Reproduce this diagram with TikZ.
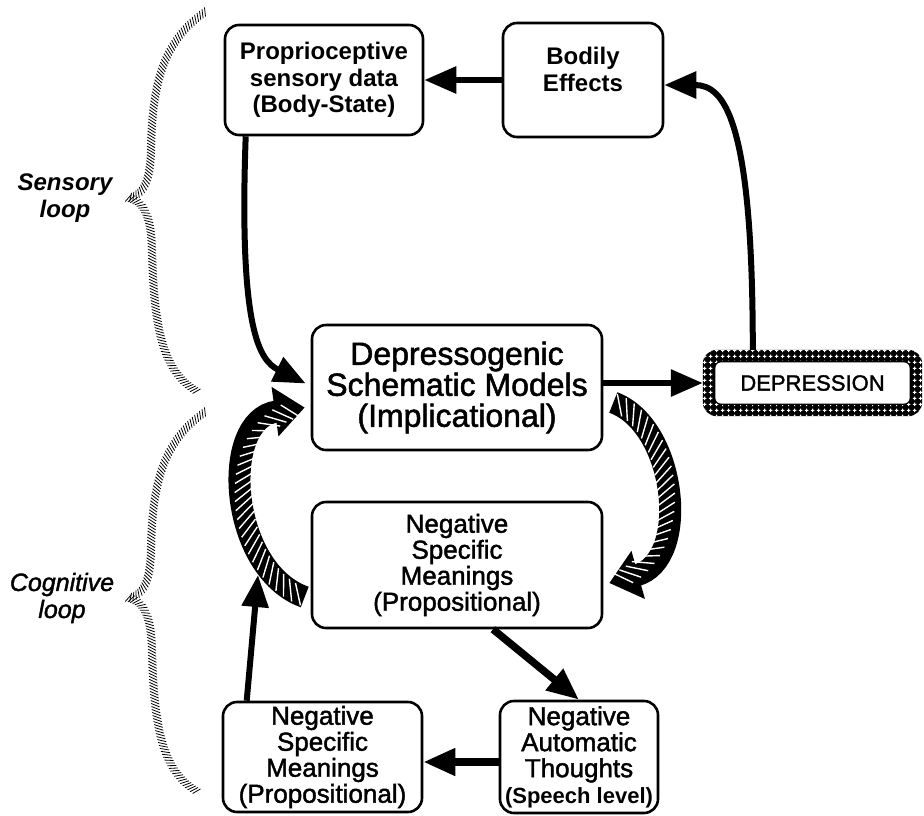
\documentclass[tikz,border=0pt]{standalone}
\usepackage{fontspec}
\setmainfont{Liberation Sans}
\newfontfamily\heavyfont[FakeBold=1.6]{Liberation Sans}
\usetikzlibrary{arrows.meta,calc,decorations.markings,patterns.meta}

% white crosses on black for the DEPRESSION frame
\tikzdeclarepattern{
  name=speckle, type=uncolored,
  bounding box={(0pt,0pt) and (6pt,6pt)},
  tile size={(6pt,6pt)},
  code={\draw[line width=1.3pt] (1pt,3pt) -- (5pt,3pt) (3pt,1pt) -- (3pt,5pt);}
}

\begin{document}
\begin{tikzpicture}[x=1pt,y=-1pt,
  box/.style={draw, line width=2.6pt, rounded corners=14pt, inner sep=0pt, align=center, fill=white},
  boldtxt/.style={font=\fontsize{24}{26.5}\selectfont\bfseries},
  bigtxt/.style={font=\fontsize{32}{31}\selectfont\heavyfont},
  midtxt/.style={font=\fontsize{26}{26}\selectfont\heavyfont},
  conn/.style={line width=6pt, -{Triangle[length=32pt,width=26pt]}},
  heavyconn/.style={line width=7.5pt, -{Triangle[length=32pt,width=26pt]}},
  band/.style={line width=22pt, -{Triangle[length=30pt,width=48pt]}},
  stripes/.style={decorate, decoration={markings,
      mark=between positions 0.03 and 0.96 step 8.5pt with
      {\draw[white, line width=1.4pt] (7pt,-9pt) -- (-7pt,9pt);}}},
  hbrace/.style={decorate, decoration={markings,
      mark=between positions 0 and 1 step 3pt with
      {\draw[line width=0.8pt] (-2.2pt,-4pt) -- (2.2pt,4pt);}}},
  looplabel/.style={align=center, inner sep=0pt}
]
\useasboundingbox (0,0) rectangle (924,815);

% ---------- boxes ----------
\node[box, boldtxt, minimum width=198pt, minimum height=110pt] (prop) at (324,80)
  {Proprioceptive\\sensory data\\(Body-State)};
\node[box, boldtxt, minimum width=160pt, minimum height=114pt, text depth=21pt] (bodily) at (583,80)
  {Bodily\\Effects};
\node[box, bigtxt, minimum width=290pt, minimum height=125pt] (dsm) at (457,387.5)
  {Depressogenic\\Schematic Models\\(Implicational)};
\node[inner sep=0pt, minimum width=219pt, minimum height=66pt,
      font=\fontsize{22}{24}\selectfont\heavyfont] (dep) at (812.5,383) {DEPRESSION};
\node[box, midtxt, minimum width=290pt, minimum height=126pt] (nsm1) at (457,565)
  {Negative\\Specific\\Meanings\\(Propositional)};
\node[box, midtxt, minimum width=158pt, minimum height=112pt] (nat) at (579,757)
  {Negative\\Automatic\\Thoughts\\{\normalfont\fontsize{22}{24}\selectfont\bfseries(Speech level)}};
\node[box, midtxt, minimum width=199pt, minimum height=110pt] (nsm2) at (322.5,757)
  {Negative\\Specific\\Meanings\\(Propositional)};

% ---------- speckled frame of DEPRESSION ----------
\fill[even odd rule, rounded corners=14pt] (dep.north west) rectangle (dep.south east)
  [rounded corners=6pt] ($(dep.north west)+(12,12)$) rectangle ($(dep.south east)+(-12,-12)$);
\fill[even odd rule, pattern=speckle, pattern color=white, rounded corners=14pt]
  (dep.north west) rectangle (dep.south east)
  [rounded corners=6pt] ($(dep.north west)+(12,12)$) rectangle ($(dep.south east)+(-12,-12)$);
\draw[line width=1.2pt, rounded corners=6pt]
  ($(dep.north west)+(12,12)$) rectangle ($(dep.south east)+(-12,-12)$);

% ---------- sensory loop ----------
\draw[conn] (bodily.west) -- (prop.east);
\draw[conn] ($(dep.north west)+(50,0)$) .. controls +(0,-230) and +(60,0) .. ($(bodily.east)+(0,5)$);
\draw[conn] ($(prop.south west)+(22,0)$) .. controls +(-7,195) and +(-46,-23) .. ($(dsm.west)+(-5,-4)$);
\draw[conn] (dep.west -| dsm.east) -- (dep.west);

% ---------- hatched exchange between the two levels ----------
\coordinate (rbS) at ($(dsm.east)+(10,15)$);
\coordinate (rbE) at ($(nsm1.east)+(6,18)$);
\draw[band] (rbS) .. controls +(63,23) and +(82,-23) .. (rbE);
\path[stripes] (rbS) .. controls +(63,23) and +(82,-23) .. (rbE);

\coordinate (lbS) at ($(nsm1.west)+(-6,32)$);
\coordinate (lbE) at ($(dsm.west)+(-6,20)$);
\draw[band] (lbS) .. controls +(-76,-27) and +(-86,12) .. (lbE);
\path[stripes] (lbS) .. controls +(-76,-27) and +(-86,12) .. (lbE);

% ---------- cognitive loop ----------
\coordinate (tipL) at (258,575);
\draw[conn] ($(nsm2.north west)+(25,0)$) -- (tipL);
\draw[heavyconn] ($(nsm1.south)+(36,0)$) -- (nat.north);
\draw[heavyconn] ($(nat.west)+(0,5)$) -- ($(nsm2.east)+(0,5)$);

% ---------- hatched braces and their labels ----------
\path[hbrace] (205,12) .. controls (165,40) and (152,80) .. (151,150)
  .. controls (150,185) and (142,195) .. (128,198)
  .. controls (142,201) and (151,212) .. (152,250)
  .. controls (154,330) and (163,372) .. (198,392);
\begin{scope}[shift={(0,400)}]
\path[hbrace] (205,12) .. controls (165,40) and (152,80) .. (151,150)
  .. controls (150,185) and (142,195) .. (128,198)
  .. controls (142,201) and (151,212) .. (152,250)
  .. controls (154,330) and (163,372) .. (198,392);
\end{scope}
\node[looplabel, font=\fontsize{24}{27}\selectfont\bfseries\itshape] (sens) at (65,198) {Sensory\\loop};
\node[looplabel, font=\fontsize{25}{27}\selectfont\heavyfont\itshape] (cogn) at (62,598) {Cognitive\\loop};
\end{tikzpicture}
\end{document}
